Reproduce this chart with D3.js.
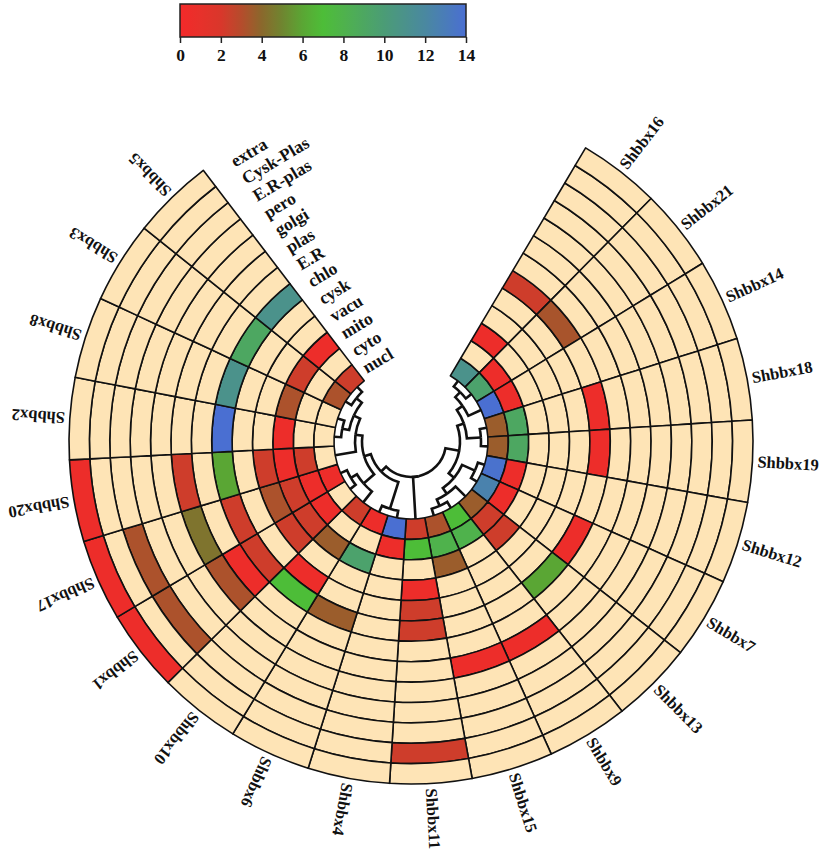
<!DOCTYPE html>
<html><head><meta charset="utf-8">
<script src="https://cdn.jsdelivr.net/npm/d3@7"></script>
<style>body{margin:0;background:#fff}</style>
</head><body>
<svg id="chart" width="828" height="851"></svg>
<script>
// ---------- data ----------
const genes = ["Shbbx16","Shbbx21","Shbbx14","Shbbx18","Shbbx19","Shbbx12","Shbbx7","Shbbx13","Shbbx9","Shbbx15","Shbbx11","Shbbx4","Shbbx6","Shbbx10","Shbbx1","Shbbx17","Shbbx20","Shbbx2","Shbbx8","Shbbx3","Shbbx5"];
const locations = ["nucl","cyto","mito","vacu","cysk","chlo","E.R","plas","golgi","pero","E.R-plas","Cysk-Plas","extra"];
const N = null;
// one row per gene (same order as genes), one value per location (inner -> outer)
const values = [
  [11,  N,  0.5,N,  N,  2.3,N,  N,  N,N,N,  N,  N],   // Shbbx16
  [9.5, 0.5,N,  N,  N,  3.3,N,  N,  N,N,N,  N,  N],   // Shbbx21
  [14,  0.5,N,  N,  N,  N,  N,  N,  N,N,N,  N,  N],   // Shbbx14
  [3.6, 9,  N,  N,  N,  0.5,N,  N,  N,N,N,  N,  N],   // Shbbx18
  [3.6, 9,  N,  N,  N,  0.5,N,  N,  N,N,N,  N,  N],   // Shbbx19
  [13.8,0.5,N,  N,  N,  N,  N,  N,  N,N,N,  N,  N],   // Shbbx12
  [12.5,0.5,N,  N,  N,  0.5,N,  N,  N,N,N,  N,  N],   // Shbbx7
  [3.6, 2.3,2.3,N,  N,  6,  N,  N,  N,N,N,  N,  N],   // Shbbx13
  [7,   8,  N,  N,  N,  N,  N,  0.5,N,N,N,  N,  N],   // Shbbx9
  [3.2, 8,  3.6,N,  N,  N,  N,  0.5,N,N,N,  N,  N],   // Shbbx15
  [2.3, 7,  N,  0.5,2.3,2.3,N,  N,  N,N,N,  2.3,N],   // Shbbx11
  [14,  0.5,N,  N,  N,  N,  N,  N,  N,N,N,  N,  N],   // Shbbx4
  [0.5, N,  9.5,N,  N,  3.6,N,  N,  N,N,N,  N,  N],   // Shbbx6
  [2.3, N,  3.6,N,  0.5,7,  N,  N,  N,N,N,  N,  N],   // Shbbx10
  [N,   0.5,2.3,2.3,N,  2.3,0.5,3.2,N,N,3.2,N,  0.5], // Shbbx1
  [0.5, 0.5,2.3,3.2,N,  2.3,N,  4.4,N,N,3.2,N,  0.5], // Shbbx17
  [N,   2.3,0.5,2.3,N,  6,  N,  2.3,N,N,N,  N,  0.5], // Shbbx20
  [N,   N,  0.5,N,  N,  14, N,  N,  N,N,N,  N,  N],   // Shbbx2
  [N,   N,  3.2,N,  N,  11, N,  N,  N,N,N,  N,  N],   // Shbbx8
  [3.2, N,  2.3,N,  N,  9,  N,  N,  N,N,N,  N,  N],   // Shbbx3
  [2.3, N,  0.5,N,  N,  11, N,  N,  N,N,N,  N,  N]    // Shbbx5
];
const legendTicks = [0,2,4,6,8,10,12,14];
const colorStops = [0,2,3,4,5,6,7,8,10,12,14];
const colorRange = ["#f42a2a","#d9372b","#b54c2c","#8a682c","#6f8530","#5aa634","#4dbd38","#4fb24c","#4b9c76","#4a88a0","#4a6fd2"];
// clustering tree (leaf order matches genes)
const tree = [[[[["Shbbx16","Shbbx21"],"Shbbx14"],["Shbbx18","Shbbx19"]],[["Shbbx12","Shbbx7"],["Shbbx13",["Shbbx9","Shbbx15"]]]],
  "Shbbx11",
  [["Shbbx4","Shbbx6"],[["Shbbx10",["Shbbx1","Shbbx17"]],["Shbbx20",[["Shbbx2","Shbbx8"],["Shbbx3","Shbbx5"]]]]]];

// ---------- layout ----------
const cx = 411, cy = 442;
const rIn = 77, rOut = 342, rRoot = 35;
const deg = Math.PI/180;
const a0 = 30.7*deg, a1 = 322.6*deg;
const labelAngle = 327.4*deg, labelRot = -31;
const empty = "#fee4b6";

const svg = d3.select("#chart");
const g = svg.append("g").attr("transform",`translate(${cx},${cy})`);

const angle = d3.scaleBand().domain(genes).range([a0,a1]).paddingInner(0).paddingOuter(0);
const radius = d3.scaleBand().domain(locations).range([rIn,rOut]).paddingInner(0).paddingOuter(0);
const color = d3.scaleLinear().domain(colorStops).range(colorRange).clamp(true);

const cells = [];
genes.forEach((gname,i)=>locations.forEach((loc,j)=>cells.push({gene:gname,loc:loc,v:values[i][j]})));

const arc = d3.arc()
  .innerRadius(d=>radius(d.loc))
  .outerRadius(d=>radius(d.loc)+radius.bandwidth())
  .startAngle(d=>angle(d.gene))
  .endAngle(d=>angle(d.gene)+angle.bandwidth());

g.append("g").selectAll("path").data(cells).join("path")
  .attr("d",arc)
  .attr("fill",d=>d.v==null?empty:color(d.v))
  .attr("stroke","#111").attr("stroke-width",1.6).attr("stroke-linejoin","round");

// gene labels
const fontFam = "'Liberation Serif','Times New Roman',serif";
g.append("g").selectAll("text").data(genes).join("text")
  .attr("transform",d=>{const a=(angle(d)+angle.bandwidth()/2)/deg; return `rotate(${a-90}) translate(${rOut+5},0)`;})
  .attr("dominant-baseline","central")
  .attr("font-family",fontFam).attr("font-weight","bold").attr("font-size",16.5)
  .attr("fill","#111")
  .text(d=>d);

// location labels beside the gap
g.append("g").selectAll("text").data(locations).join("text")
  .attr("transform",d=>{const r=radius(d)+radius.bandwidth()/2; const x=r*Math.sin(labelAngle), y=-r*Math.cos(labelAngle); return `translate(${x},${y}) rotate(${labelRot})`;})
  .attr("dominant-baseline","central")
  .attr("font-family",fontFam).attr("font-weight","bold").attr("font-size",17.5)
  .attr("fill","#111")
  .text(d=>d);

// dendrogram
const root = d3.hierarchy(tree, d=>Array.isArray(d)?d:null);
d3.cluster().size([a1-a0,1]).separation(()=>1)(root);
const rad = d3.scaleLinear().domain([0,1]).range([rRoot,rIn]);
root.each(n=>{n.ang = n.x + a0; n.rr = rad(n.y);});
const pt = (a,r)=>[r*Math.sin(a), -r*Math.cos(a)];
g.append("g").selectAll("path").data(root.links()).join("path")
  .attr("d",l=>{
    const s=l.source,t=l.target;
    const p0=pt(s.ang,s.rr), p1=pt(t.ang,s.rr), p2=pt(t.ang,t.rr);
    const sweep = t.ang>s.ang?1:0;
    return `M${p0[0]},${p0[1]}A${s.rr},${s.rr} 0 0 ${sweep} ${p1[0]},${p1[1]}L${p2[0]},${p2[1]}`;
  })
  .attr("fill","none").attr("stroke","#111").attr("stroke-width",2.6);

// ---------- colour legend ----------
const lx0=180, lx1=466, ly0=4, ly1=37;
const lscale = d3.scaleLinear().domain([0,14]).range([lx0,lx1]);
const defs = svg.append("defs");
const grad = defs.append("linearGradient").attr("id","lg").attr("x1","0%").attr("x2","100%");
d3.range(0,14.01,0.5).forEach(v=>grad.append("stop").attr("offset",(v/14*100)+"%").attr("stop-color",color(v)));
svg.append("rect").attr("x",lx0).attr("y",ly0).attr("width",lx1-lx0).attr("height",ly1-ly0)
  .attr("fill","url(#lg)").attr("stroke","#222").attr("stroke-width",1.5);
const ax = svg.append("g").attr("transform",`translate(0,${ly1})`)
  .call(d3.axisBottom(lscale).tickValues(legendTicks).tickSize(6).tickPadding(6));
ax.select(".domain").remove();
ax.selectAll(".tick line").attr("stroke","#222").attr("stroke-width",1.5);
ax.selectAll("text").attr("font-family",fontFam).attr("font-weight","bold").attr("font-size",17.5).attr("fill","#111");
</script>
</body></html>
